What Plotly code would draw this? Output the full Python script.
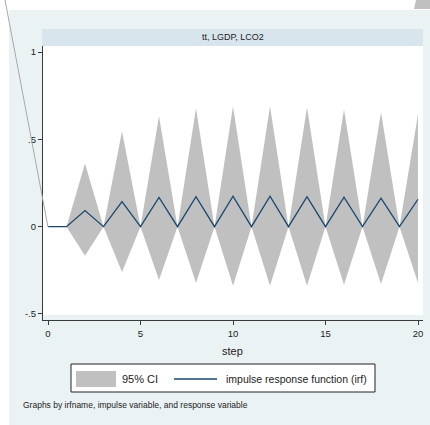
import plotly.graph_objects as go

# ---- data ----
steps = list(range(21))
irf = [0, 0, 0.092, 0, 0.144, 0, 0.167, 0, 0.172, 0, 0.174, 0, 0.174, 0, 0.172, 0, 0.169, 0, 0.163, 0, 0.157]
ci_upper = [0, 0, 0.362, 0, 0.546, 0, 0.632, 0, 0.678, 0, 0.689, 0, 0.689, 0, 0.684, 0, 0.672, 0, 0.655, 0, 0.644]
ci_lower = [0, 0, -0.167, 0, -0.259, 0, -0.305, 0, -0.322, 0, -0.339, 0, -0.339, 0, -0.339, 0, -0.333, 0, -0.328, 0, -0.322]
y_tickvals = [-0.5, 0, 0.5, 1]
y_ticktext = ["-.5", "0", ".5", "1"]
x_tickvals = [0, 5, 10, 15, 20]
panel_title = "tt, LGDP, LCO2"
legend_labels = ["95% CI", "impulse response function (irf)"]
note_text = "Graphs by irfname, impulse variable, and response variable"
x_title = "step"

# ---- geometry (page pixels) ----
W, H = 430, 425
PL, PR, PT, PB = 43, 423, 46, 320          # plot area
ML, MR, MT, MB = PL, W - PR, PT, H - PB
PW, PH = PR - PL, PB - PT


def px(xp):
    return (xp - PL) / PW


def py(yp):
    return (PB - yp) / PH


FONT = "Liberation Sans, Arial, sans-serif"
PANEL = "#EAF2F3"
STRIP = "#D9E5EC"
GRAY = "#C0C0C0"
NAVY = "#1A476F"
AXIS = "#3A3A3A"
TXT = "#222222"

fig = go.Figure()

fig.add_trace(go.Scatter(
    x=steps + steps[::-1],
    y=ci_upper + ci_lower[::-1],
    fill="toself", fillcolor=GRAY, mode="lines",
    line=dict(width=0, color=GRAY), name=legend_labels[0],
    showlegend=False, hoverinfo="skip",
))
fig.add_trace(go.Scatter(
    x=steps, y=irf, mode="lines",
    line=dict(color=NAVY, width=1.3), name=legend_labels[1],
    showlegend=False,
))

shapes = []
# outer panel background
shapes.append(dict(type="rect", xref="paper", yref="paper",
                   x0=px(9), x1=px(431), y0=py(426), y1=py(10),
                   fillcolor=PANEL, line=dict(width=0), layer="below"))
# white inner plot region
shapes.append(dict(type="rect", xref="x domain", yref="y domain",
                   x0=0, x1=1, y0=(PB - 315) / PH, y1=1,
                   fillcolor="white", line=dict(width=0), layer="below"))
# strip title bar
shapes.append(dict(type="rect", xref="paper", yref="paper",
                   x0=px(42), x1=1, y0=1, y1=py(29),
                   fillcolor=STRIP, line=dict(width=0), layer="below"))
# stray rendering artifacts of the original
shapes.append(dict(type="line", xref="paper", yref="paper",
                   x0=px(5), y0=py(0), x1=px(48), y1=py(227),
                   line=dict(color="#A8A8A8", width=1), layer="above"))
shapes.append(dict(type="path", xref="paper", yref="paper",
                   path=f"M{px(416)},{py(0)} L{px(431)},{py(0)} L{px(431)},{py(9)} L{px(414)},{py(9)} Z",
                   fillcolor=GRAY, line=dict(width=0), layer="above"))
# legend box
shapes.append(dict(type="rect", xref="paper", yref="paper",
                   x0=px(71), x1=px(375), y0=py(392), y1=py(364),
                   fillcolor="white", line=dict(color=TXT, width=1)))
shapes.append(dict(type="rect", xref="paper", yref="paper",
                   x0=px(76), x1=px(116), y0=py(387), y1=py(371),
                   fillcolor=GRAY, line=dict(width=0)))
shapes.append(dict(type="line", xref="paper", yref="paper",
                   x0=px(174), x1=px(217), y0=py(379), y1=py(379),
                   line=dict(color=NAVY, width=1.3)))

annotations = [
    dict(text=panel_title, xref="paper", yref="paper", x=0.5, y=py(37.5),
         showarrow=False, font=dict(family=FONT, size=9, color=TXT),
         xanchor="center", yanchor="middle"),
    dict(text=legend_labels[0], xref="paper", yref="paper", x=px(120), y=py(379),
         showarrow=False, font=dict(family=FONT, size=11, color=TXT),
         xanchor="left", yanchor="middle"),
    dict(text=legend_labels[1], xref="paper", yref="paper", x=px(224), y=py(379),
         showarrow=False, font=dict(family=FONT, size=10.5, color=TXT),
         xanchor="left", yanchor="middle"),
    dict(text=note_text, xref="paper", yref="paper", x=px(21), y=py(405),
         showarrow=False, font=dict(family=FONT, size=8.5, color=TXT),
         xanchor="left", yanchor="middle"),
    dict(text=x_title, xref="paper", yref="paper", x=px(232), y=py(351),
         showarrow=False, font=dict(family=FONT, size=11, color=TXT),
         xanchor="center", yanchor="middle"),
]

fig.update_layout(
    width=W, height=H,
    margin=dict(l=ML, r=MR, t=MT, b=MB, pad=0),
    paper_bgcolor="white", plot_bgcolor=PANEL,
    showlegend=False,
    font=dict(family=FONT, size=9, color=TXT),
    shapes=shapes, annotations=annotations,
    xaxis=dict(range=[-0.27, 20.27], tickvals=x_tickvals, ticks="outside",
               ticklen=4, tickcolor=AXIS, showline=True, linecolor=AXIS,
               linewidth=1.2, showgrid=False, zeroline=False,
               tickfont=dict(size=9.5)),
    yaxis=dict(range=[-0.5344, 1.0344], tickvals=y_tickvals, ticktext=y_ticktext,
               ticks="outside", ticklen=4, tickcolor=AXIS, showline=True,
               linecolor=AXIS, linewidth=1.2, showgrid=False, zeroline=False,
               tickfont=dict(size=9.5)),
)

# remove the browser's default 8px page margin so the figure sits at (0, 0)
fig.write_html(
    "out.html",
    config={"displayModeBar": False},
    post_script="document.body.style.margin='0';document.documentElement.style.overflow='hidden';",
)
